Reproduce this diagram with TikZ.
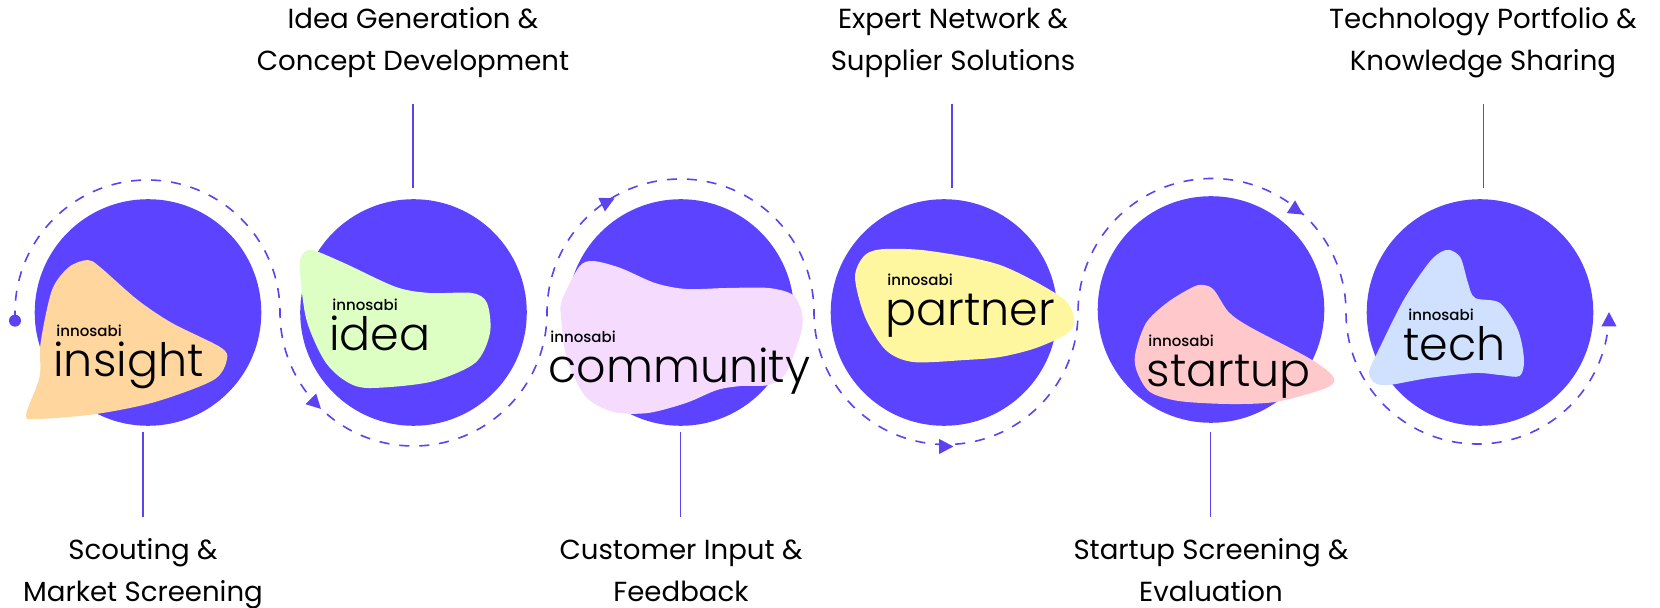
\documentclass[tikz,border=0pt]{standalone}
\usepackage{fontspec}
\setmainfont{Poppins}
\newfontfamily\wordfont[UprightFont=* Light]{Poppins}
\newfontfamily\brandfont[UprightFont=* Medium]{Poppins}
\definecolor{violet}{HTML}{5B43FF}
\definecolor{flow}{HTML}{5B43F0}
\definecolor{cinsight}{HTML}{FFD69E}
\definecolor{cidea}{HTML}{DDFFC4}
\definecolor{ccommunity}{HTML}{F5DCFF}
\definecolor{cpartner}{HTML}{FFF7A0}
\definecolor{cstartup}{HTML}{FFC9CC}
\definecolor{ctech}{HTML}{CFE1FF}
\tikzset{
  disc/.style={circle,fill=violet,minimum size=113.3pt,inner sep=0pt},
  blob/.style={smooth cycle,tension=0.5},
  lead/.style={draw=flow,line width=0.7pt},
  caption/.style={align=center,font=\fontsize{13.8}{21}\selectfont,text=black,anchor=center},
  brand/.style={anchor=base west,inner sep=0pt,font=\brandfont\fontsize{7.5}{8}\selectfont},
  word/.style={anchor=base west,inner sep=0pt,font=\wordfont\fontsize{23}{26}\selectfont},
  flowline/.style={draw=flow,line width=0.8pt,dash pattern=on 5pt off 5pt},
  tip/.style={fill=flow}
}
\newcommand{\tipshape}{(4.2pt,0) -- (-3pt,3.8pt) -- (-3pt,-3.8pt) -- cycle}
\begin{document}
\begin{tikzpicture}[x=0.5pt,y=-0.5pt]
\useasboundingbox (0,0) rectangle (1660,608);
% discs
\node[disc] (d1) at (148,312.5) {};
\node[disc] (d2) at (413.5,312.5) {};
\node[disc] (d3) at (680.7,312.5) {};
\node[disc] (d4) at (944,312.5) {};
\node[disc] (d5) at (1211,309.5) {};
\node[disc] (d6) at (1480,312.5) {};
% flow line
\node[circle,fill=flow,minimum size=6pt,inner sep=0pt] (s) at (15,320.7) {};
\draw[flowline] (s.center) -- (15,312.5)
  arc[start angle=180,end angle=0,radius=66.25pt]
  arc[start angle=180,end angle=360,radius=66.75pt]
  arc[start angle=180,end angle=0,radius=66.75pt]
  arc[start angle=180,end angle=360,radius=66pt]
  arc[start angle=180,end angle=0,radius=67pt]
  arc[start angle=180,end angle=353.7,radius=65.75pt];
\fill[tip,shift={(607,202)},rotate=26] \tipshape;
\fill[tip,shift={(315,403)},rotate=-45] \tipshape;
\fill[tip,shift={(945,446.5)},rotate=0] \tipshape;
\fill[tip,shift={(1296,210)},rotate=-33] \tipshape;
\fill[tip,shift={(1609,320.5)},rotate=90] \tipshape;
% blobs
\fill[cinsight] plot[blob] coordinates {(87.8,260)(100,267)(137.7,300)(172,323)(220,347)(227,359)(213.5,380)(155,402)(96,414)(38,419)(26,415)(39.6,377)(40.6,343)(52,290)(69,267)};
\fill[cidea] plot[blob] coordinates {(311.6,250)(344,263)(396,287)(430,293)(472,293)(487,303)(490,333)(475,363)(430,382)(368,388)(344,380)(324,360)(306.5,320)(300,273)(301,257)};
\fill[ccommunity] plot[blob] coordinates {(593,261)(579,267)(562,300)(561,317)(567,360)(586,397)(613.6,412)(648,413)(686,403)(717,390)(741,386)(768.6,385)(786,373)(801,333)(802,313)(793,295)(768.6,288)(727,288)(686,289)(655,283)(620.5,268)};
\fill[cpartner] plot[blob] coordinates {(885,249)(865,255)(855,277)(865,317)(885.7,350)(913,362)(965,360)(1000,357)(1036,348)(1068,333)(1074,318)(1061,297)(1000,265)(930,251)};
\fill[cstartup] plot[blob] coordinates {(1203.6,285)(1214,290)(1228.6,312)(1250,327)(1307,357)(1330,373)(1334,382)(1321,390)(1275,402)(1228.6,404)(1178.6,401)(1150,392)(1137.5,373)(1135,355)(1146,323)(1168,302)(1193,287)};
\fill[ctech] plot[blob] coordinates {(1450,250)(1460.7,258)(1468,283)(1475,298)(1500,303)(1518,330)(1524,360)(1519.6,376)(1500,375)(1475,373)(1428.6,378)(1389,385)(1375,383)(1369,372)(1378.6,350)(1403.6,300)(1428.6,263)(1441,252)};
% words
\node[brand] (b1) at (56,336.7) {innosabi};
\node[word] (w1) at (53,376.7) {insight};
\node[brand] (b2) at (332,311) {innosabi};
\node[word] (w2) at (329,350.7) {idea};
\node[brand] (b3) at (550,342.7) {innosabi};
\node[word] (w3) at (548,383) {community};
\node[brand] (b4) at (887,286) {innosabi};
\node[word] (w4) at (885,325.7) {partner};
\node[brand] (b5) at (1148,346.7) {innosabi};
\node[word] (w5) at (1146.5,387) {startup};
\node[brand] (b6) at (1408,321) {innosabi};
\node[word] (w6) at (1403,361) {tech};
% captions
\node[caption] (c1) at (143,572) {\strut Scouting \&\\\strut Market Screening};
\node[caption] (c2) at (413,41) {\strut Idea Generation \&\\\strut Concept Development};
\node[caption] (c3) at (681,572) {\strut Customer Input \&\\\strut Feedback};
\node[caption] (c4) at (953,41) {\strut Expert Network \&\\\strut Supplier Solutions};
\node[caption] (c5) at (1211,572) {\strut Startup Screening \&\\\strut Evaluation};
\node[caption] (c6) at (1483,41) {\strut Technology Portfolio \&\\\strut Knowledge Sharing};
% leaders
\coordinate (e1) at (143,432); \coordinate (f1) at (143,516.6);
\coordinate (e2) at (413,103.7); \coordinate (f2) at (413,188);
\coordinate (e3) at (680.7,432); \coordinate (f3) at (680.7,516.6);
\coordinate (e4) at (952,103.7); \coordinate (f4) at (952,188);
\coordinate (e5) at (1210.7,432); \coordinate (f5) at (1210.7,516.6);
\coordinate (e6) at (1483.6,103.7); \coordinate (f6) at (1483.6,188);
\foreach \i in {1,...,6} \draw[lead] (e\i) -- (f\i);
\end{tikzpicture}
\end{document}
